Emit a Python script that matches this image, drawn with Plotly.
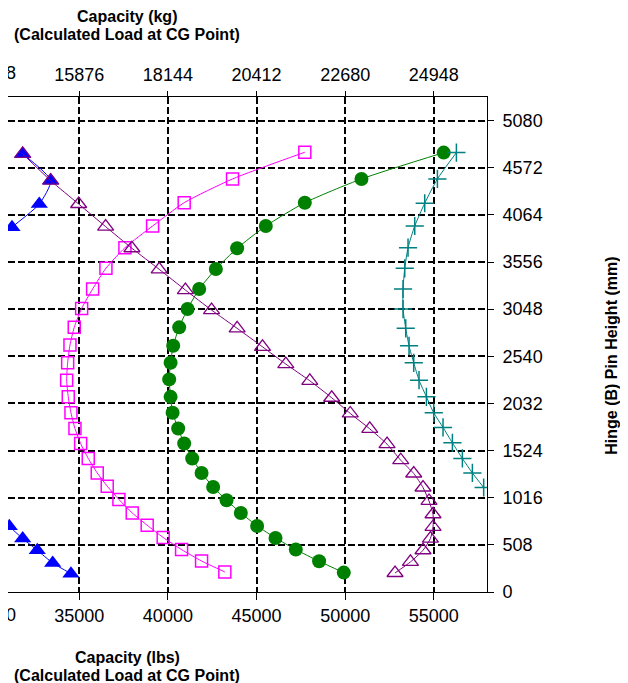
import plotly.graph_objects as go

# ---------------- data ----------------
LBS_TO_KG = 0.4536

x_range_lbs = [30981, 58000]
y_range_mm = [0, 5334]

bottom_ticks_lbs = [30000, 35000, 40000, 45000, 50000, 55000]
top_ticks_kg = [13608, 15876, 18144, 20412, 22680, 24948]
right_ticks_mm = [0, 508, 1016, 1524, 2032, 2540, 3048, 3556, 4064, 4572, 5080]

blue_lbs = [31809, 33388, 32745, 31206, 29800, 29900, 30490, 31054, 31809, 32632, 33501, 34532]
blue_mm = [4721, 4433, 4181, 3930, 3685, 950, 827, 708, 576, 450, 313, 198]

purple_lbs = [31809, 33388, 34966, 36488, 37971, 39510, 40987, 42463, 43906, 45338,
              46652, 48005, 49240, 50287, 51387, 52362, 53134, 53867, 54391, 54729,
              54955, 54955, 54808, 54391, 53681, 52813]
purple_mm = [4721, 4433, 4181, 3937, 3704, 3477, 3254, 3038, 2841, 2642,
             2456, 2276, 2093, 1924, 1758, 1593, 1420, 1277, 1126, 981,
             838, 701, 576, 450, 324, 205]

magenta_lbs = [47723, 43647, 40919, 39138, 37576, 36505, 35755, 35135, 34718, 34476,
               34346, 34290, 34380, 34532, 34758, 35079, 35507, 36015, 36578, 37238,
               37988, 38833, 39735, 40772, 41900, 43213]
magenta_mm = [4739, 4451, 4195, 3944, 3710, 3488, 3265, 3056, 2852, 2661,
              2470, 2283, 2103, 1931, 1762, 1600, 1439, 1283, 1140, 997,
              852, 719, 587, 457, 334, 216]

green_lbs = [55558, 50919, 47723, 45524, 43906, 42706, 41765, 41110, 40637, 40299,
             40152, 40073, 40152, 40265, 40581, 40919, 41370, 41900, 42553, 43309,
             44115, 45034, 46071, 47215, 48529, 49921]
green_mm = [4735, 4451, 4195, 3944, 3704, 3480, 3265, 3049, 2852, 2653,
            2470, 2291, 2103, 1931, 1762, 1600, 1439, 1283, 1132, 989,
            852, 712, 582, 457, 331, 209]

teal_lbs = [56274, 55203, 54487, 53924, 53546, 53360, 53264, 53264, 53416, 53602,
            53867, 54166, 54583, 54995, 55519, 56049, 56612, 57176, 57813]
teal_mm = [4735, 4451, 4189, 3944, 3710, 3488, 3265, 3049, 2841, 2653,
           2470, 2283, 2103, 1931, 1773, 1607, 1439, 1283, 1126]

# ---------------- figure ----------------
# the page body adds an 8px margin, so the figure is sized/positioned to compensate
OFF = 8
W, H = 628 - OFF, 683 - OFF
ML, MR, MT, MB = 0, 141, 97 - OFF, 91
PW, PH = W - ML - MR, H - MT - MB
FONT = "Liberation Sans, Arial, sans-serif"


def px_to_paper_x(px):  # px in page pixels
    return (px - OFF - ML) / PW


def px_to_paper_y(py):
    return (H - MB - (py - OFF)) / PH


fig = go.Figure()

line_kw = dict(shape="spline", smoothing=0.6, width=1)

fig.add_trace(go.Scatter(
    x=green_lbs, y=green_mm, mode="lines+markers",
    line=dict(color="#008000", **line_kw),
    marker=dict(symbol="circle", size=14, color="#008000", line=dict(width=0)),
))
fig.add_trace(go.Scatter(
    x=magenta_lbs, y=magenta_mm, mode="lines+markers",
    line=dict(color="#FF00FF", **line_kw),
    marker=dict(symbol="square-open", size=12, color="#FF00FF", line=dict(width=1.5)),
))
fig.add_trace(go.Scatter(
    x=blue_lbs, y=blue_mm, mode="lines+markers",
    line=dict(color="#0000FF", **line_kw),
    marker=dict(symbol="triangle-up", size=15, color="#0000FF", line=dict(width=0)),
))
fig.add_trace(go.Scatter(
    x=purple_lbs, y=purple_mm, mode="lines+markers",
    line=dict(color="#800080", **line_kw),
    marker=dict(symbol="triangle-up-open", size=14, color="#800080", line=dict(width=1.3)),
))
fig.add_trace(go.Scatter(
    x=teal_lbs, y=teal_mm, mode="lines+markers",
    line=dict(color="#008080", **line_kw),
    marker=dict(symbol="cross-thin-open", size=13, color="#008080", line=dict(width=1.5, color="#008080")),
))
# empty trace to carry the top (kg) axis
fig.add_trace(go.Scatter(x=[], y=[], xaxis="x2", yaxis="y", showlegend=False))

grid_kw = dict(showgrid=True, gridcolor="black", gridwidth=2, griddash="7px,3px")
tick_font = dict(family=FONT, size=18, color="black")

fig.update_layout(
    width=W, height=H,
    margin=dict(l=ML, r=MR, t=MT, b=MB, pad=0),
    paper_bgcolor="white", plot_bgcolor="white",
    showlegend=False,
    font=dict(family=FONT, color="black"),
    xaxis=dict(
        range=x_range_lbs, tickmode="array", tickvals=bottom_ticks_lbs,
        ticktext=[str(v) for v in bottom_ticks_lbs],
        ticks="outside", ticklen=7, tickwidth=1, tickcolor="black",
        showline=True, linecolor="black", linewidth=1,
        zeroline=False, tickfont=tick_font, **grid_kw,
    ),
    xaxis2=dict(
        range=[v * LBS_TO_KG for v in x_range_lbs], overlaying="x", side="top", anchor="y",
        tickmode="array", tickvals=top_ticks_kg, ticktext=[str(v) for v in top_ticks_kg],
        ticks="outside", ticklen=5, tickwidth=1, tickcolor="black", ticklabelstandoff=3,
        showline=True, linecolor="black", linewidth=1,
        zeroline=False, showgrid=False, tickfont=tick_font,
    ),
    yaxis=dict(
        range=y_range_mm, side="right", tickmode="array", tickvals=right_ticks_mm,
        ticktext=[str(v) for v in right_ticks_mm],
        ticks="outside", ticklen=6, tickwidth=1, tickcolor="black", ticklabelstandoff=5,
        showline=True, linecolor="black", linewidth=1,
        zeroline=False, tickfont=tick_font, **grid_kw,
    ),
)

# partially visible (cropped) leftmost tick labels
x0, x1 = x_range_lbs
frac = (bottom_ticks_lbs[0] - x0) / (x1 - x0)
fig.add_annotation(x=frac, y=px_to_paper_y(615), xref="paper", yref="paper",
                   text=str(bottom_ticks_lbs[0]), showarrow=False,
                   xanchor="center", yanchor="middle", font=tick_font)
fig.add_annotation(x=frac, y=px_to_paper_y(73), xref="paper", yref="paper",
                   text=str(top_ticks_kg[0]), showarrow=False,
                   xanchor="center", yanchor="middle", font=tick_font)

title_font = dict(family=FONT, size=16, color="black")
title_x = px_to_paper_x(127)
for txt, py in [("<b>Capacity (kg)</b>", 16), ("<b>(Calculated Load at CG Point)</b>", 34.5),
                ("<b>Capacity (lbs)</b>", 657), ("<b>(Calculated Load at CG Point)</b>", 675.7)]:
    fig.add_annotation(x=title_x, y=px_to_paper_y(py), xref="paper", yref="paper",
                       text=txt, showarrow=False, xanchor="center", yanchor="middle",
                       font=title_font)

fig.add_annotation(x=px_to_paper_x(612), y=px_to_paper_y(355.7), xref="paper", yref="paper",
                   text="<b>Hinge (B) Pin Height (mm)</b>", textangle=-90, showarrow=False,
                   xanchor="center", yanchor="middle", font=title_font)

fig.write_html("out.html")
